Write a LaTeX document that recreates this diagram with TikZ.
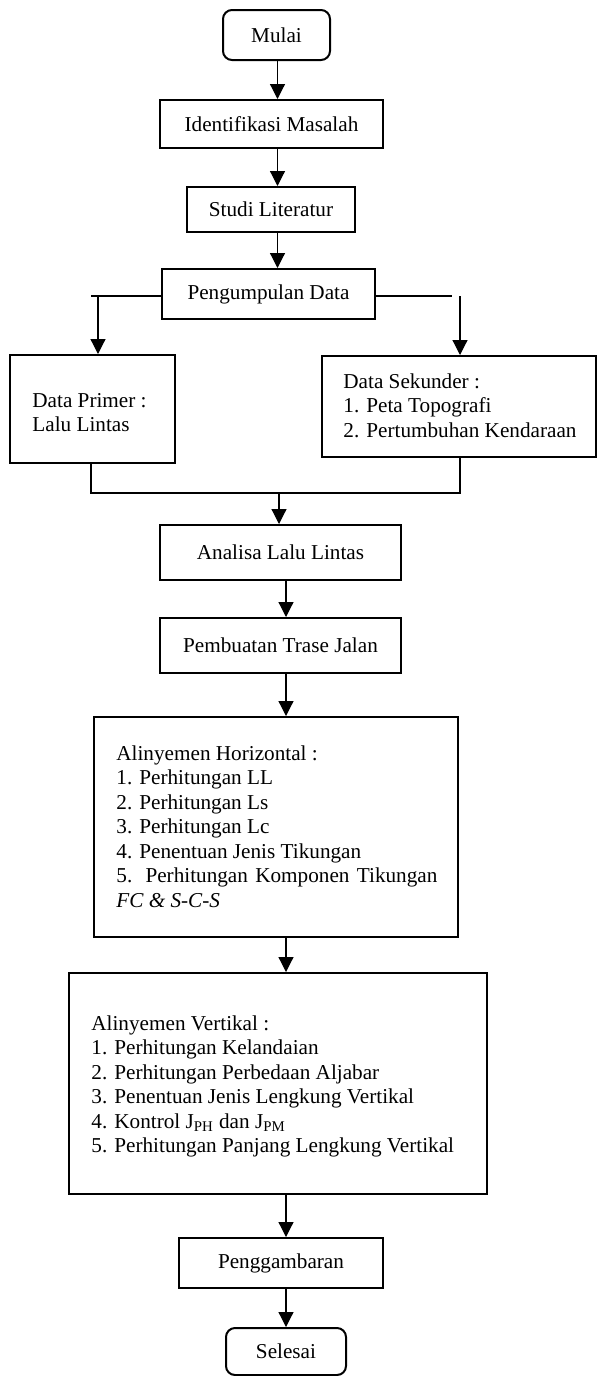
\documentclass[tikz,border=0pt]{standalone}
\usepackage{fontspec}
\setmainfont{Liberation Serif}
\usetikzlibrary{arrows.meta}
\begin{document}
\begin{tikzpicture}[x=0.5pt,y=-0.5pt,
  font=\fontsize{10.6pt}{12.25pt}\selectfont,
  box/.style={draw, line width=1pt, inner sep=0pt},
  rbox/.style={box, rounded corners=4.5pt},
  conn/.style={line width=0.6pt},
  arr/.style={conn, -{Triangle[width=7.5pt,length=7.5pt]}},
  txt/.style={inner sep=0pt, anchor=base west}]
\useasboundingbox (0,0) rectangle (597,1376);
% boxes
\node[rbox, minimum width=53.5pt, minimum height=25pt] (mulai) at (276.5,35) {Mulai};
\node[box, minimum width=111.5pt, minimum height=24pt] (ident) at (271.5,124) {Identifikasi Masalah};
\node[box, minimum width=84pt, minimum height=22.5pt] (studi) at (271,209.5) {Studi Literatur};
\node[box, minimum width=106.5pt, minimum height=25pt] (kumpul) at (268.5,294) {Pengumpulan Data};
\node[box, minimum width=82.5pt, minimum height=54pt] (primer) at (92.5,409) {};
\node[box, minimum width=137pt, minimum height=50.5pt] (sekunder) at (459,406.5) {};
\node[box, minimum width=120.5pt, minimum height=27.5pt] (analisa) at (280.5,552.5) {Analisa Lalu Lintas};
\node[box, minimum width=120.5pt, minimum height=27.5pt] (trase) at (280.5,645.5) {Pembuatan Trase Jalan};
\node[box, minimum width=182pt, minimum height=110pt] (horiz) at (276,827) {};
\node[box, minimum width=209pt, minimum height=110.5pt] (vert) at (278,1083.5) {};
\node[box, minimum width=102pt, minimum height=25pt] (gambar) at (281,1263) {Penggambaran};
\node[rbox, minimum width=60pt, minimum height=23.5pt] (selesai) at (286,1351.5) {Selesai};
% texts inside multi-line boxes
\node[txt] (primert) at (32,407) {\parbox[t]{75pt}{Data Primer :\\Lalu Lintas}};
\node[txt] (sekundert) at (343,388) {\parbox[t]{125pt}{Data Sekunder :\\1. Peta Topografi\\2. Pertumbuhan Kendaraan}};
\node[txt] (horizt) at (116,760) {\parbox[t]{170pt}{Alinyemen Horizontal :\\1. Perhitungan LL\\2. Perhitungan Ls\\3. Perhitungan Lc\\4. Penentuan Jenis Tikungan\\\makebox[160.5pt][s]{5. Perhitungan Komponen Tikungan}\\\textit{FC \& S-C-S}}};
\node[txt] (vertt) at (91,1030) {\parbox[t]{200pt}{Alinyemen Vertikal :\\1. Perhitungan Kelandaian\\2. Perhitungan Perbedaan Aljabar\\3. Penentuan Jenis Lengkung Vertikal\\4. Kontrol J\textsubscript{PH} dan J\textsubscript{PM}\\5. Perhitungan Panjang Lengkung Vertikal}};
% helper coordinates
\coordinate (cu) at (277.5,0);
\coordinate (cl) at (286,0);
\coordinate (lb) at (91,296);
\coordinate (la) at (98,296);
\coordinate (rb) at (452,296);
\coordinate (ra) at (460,296);
\coordinate (ml) at (91,493);
\coordinate (mr) at (460,493);
\coordinate (mm) at (279,493);
% connectors
\draw[arr] (mulai.south -| cu) -- (ident.north -| cu);
\draw[arr] (ident.south -| cu) -- (studi.north -| cu);
\draw[arr] (studi.south -| cu) -- (kumpul.north -| cu);
\draw[conn] (kumpul.west |- lb) -- (lb);
\draw[arr] (la) -- (primer.north -| la);
\draw[conn] (kumpul.east |- rb) -- (rb);
\draw[arr] (ra) -- (sekunder.north -| ra);
\draw[conn] (primer.south -| ml) -- (ml) -- (mr) -- (sekunder.south -| mr);
\draw[arr] (mm) -- (analisa.north -| mm);
\draw[arr] (analisa.south -| cl) -- (trase.north -| cl);
\draw[arr] (trase.south -| cl) -- (horiz.north -| cl);
\draw[arr] (horiz.south -| cl) -- (vert.north -| cl);
\draw[arr] (vert.south -| cl) -- (gambar.north -| cl);
\draw[arr] (gambar.south -| cl) -- (selesai.north -| cl);
\end{tikzpicture}
\end{document}
